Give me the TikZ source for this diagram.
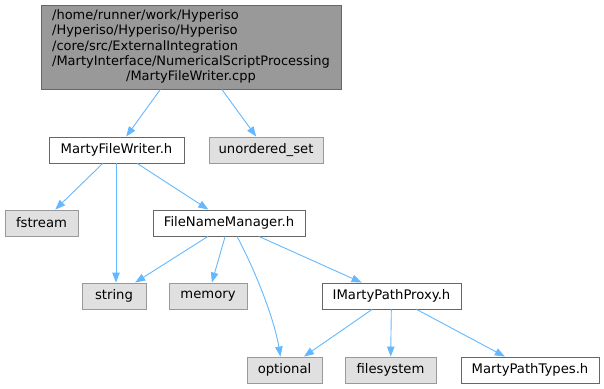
\documentclass[tikz,border=0pt]{standalone}
\usepackage{fontspec}
\setmainfont{DejaVu Sans}
\usetikzlibrary{arrows.meta}
\definecolor{edgeblue}{HTML}{63B8FF}
\definecolor{boxline}{HTML}{666666}
\definecolor{sysline}{HTML}{999999}
\definecolor{sysfill}{HTML}{E0E0E0}
\definecolor{mainfill}{HTML}{999999}
\tikzset{file box/.style={draw=boxline, fill=white, line width=0.9pt, minimum height=26pt, inner sep=0pt, font=\fontsize{13.2}{15}\selectfont}}
\tikzset{sys box/.style={file box, draw=sysline, fill=sysfill}}

\begin{document}
\begin{tikzpicture}[
		x=1pt, y=-1pt,
		include/.style={draw=edgeblue, line width=0.9pt, -{Triangle[length=10pt, width=7.5pt]}},
		box/.style={file box, minimum width=#1},
		box/.default=100pt
		]    % #1 is the width of the box
		\useasboundingbox (0,0) rectangle (604,388);
		% top file
		\node[file box, draw=boxline, fill=mainfill, minimum width=300pt, minimum height=84pt] (main) at (191,47)
		{\fontsize{13}{15.4}\selectfont\renewcommand{\arraystretch}{1}%
			\begin{tabular}{@{}l@{}}
				/home/runner/work/Hyperiso\\
				/Hyperiso/Hyperiso/Hyperiso\\
				/core/src/ExternalIntegration\\
				/MartyInterface/NumericalScriptProcessing\\
				\multicolumn{1}{@{}c@{}}{/MartyFileWriter.cpp}
		\end{tabular}};
		% headers
		\node[box=135pt] (mfw) at (116.5,150) {MartyFileWriter.h};
		\node[box=152pt] (fnm) at (229,223) {FileNameManager.h};
		\node[box=139pt] (impp) at (391.5,296) {IMartyPathProxy.h};
		\node[box=138pt] (mpt) at (530,370) {MartyPathTypes.h};
		% system headers
		\node[sys box, minimum width=114pt] (uset) at (266,150) {unordered\_set};
		\node[sys box, minimum width=73pt] (fstream) at (41.5,223) {fstream};
		\node[sys box, minimum width=64pt] (string) at (114,296) {string};
		\node[sys box, minimum width=78pt] (memory) at (208,296) {memory};
		\node[sys box, minimum width=75pt] (optional) at (284.5,370) {optional};
		\node[sys box, minimum width=91pt] (filesystem) at (390.5,370) {filesystem};
		% includes
		\draw[include] (main) -- (mfw);
		\draw[include] (main) -- (uset);
		\draw[include] (mfw) -- (fstream);
		\draw[include] (mfw.south -| 116,0) -- (string.north -| 116,0);
		\draw[include] (mfw) -- (fnm);
		\draw[include] (fnm) -- (string);
		\draw[include] (fnm) -- (memory);
		\draw[include] ([xshift=8pt]fnm.south) .. controls (255,270) and (274,318) .. ([xshift=-4pt]optional.north);
		\draw[include] (fnm) -- (impp);
		\draw[include] (impp) -- (optional);
		\draw[include] (impp) -- (filesystem);
		\draw[include] (impp) -- (mpt);
	\end{tikzpicture}
\end{document}
